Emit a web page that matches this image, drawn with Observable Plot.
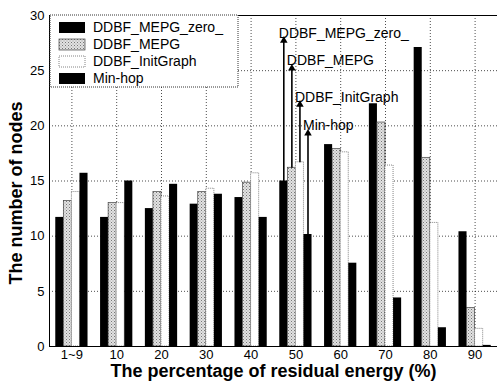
<!DOCTYPE html>
<html><head><meta charset="utf-8">
<script src="https://cdn.jsdelivr.net/npm/d3@7"></script>
<script src="https://cdn.jsdelivr.net/npm/@observablehq/plot@0.6"></script>
<style>body{margin:0;background:#fff;overflow:hidden} #chart{position:relative;width:497px;height:384px}</style>
</head><body><div id="chart"></div>
<script>
const categories = ["1~9","10","20","30","40","50","60","70","80","90"];
const seriesNames = ["DDBF_MEPG_zero_","DDBF_MEPG","DDBF_InitGraph","Min-hop"];
const zeroValues   = [11.7, 11.7, 12.5, 12.9, 13.5, 15.0, 18.3, 22.0, 27.1, 10.4];
const mepgValues   = [13.2, 13.0, 14.0, 14.0, 14.85, 16.2, 17.9, 20.3, 17.1, 3.5];
const initValues   = [14.0, 13.0, 13.6, 14.3, 15.7, 16.7, 17.6, 16.4, 11.2, 1.6];
const minhopValues = [15.7, 15.0, 14.7, 13.8, 11.7, 10.15, 7.55, 4.4, 1.7, 0.1];
const yTicks = [0, 5, 10, 15, 20, 25, 30];
const annotatedCategory = "50";
const arrowTips = [27.9, 25.4, 22.1, 19.5];

const series = [zeroValues, mepgValues, initValues, minhopValues];
const barW = 0.18;
const rows = [];
series.forEach((vals, s) => vals.forEach((v, i) => {
  const x1 = i - 2 * barW + s * barW;
  rows.push({cat: categories[i], i, s, name: seriesNames[s], value: v, x1, x2: x1 + barW, xc: x1 + barW / 2});
}));
const fr = s => rows.filter(d => d.s === s);
const ann = rows.filter(d => d.cat === annotatedCategory).map(d => ({...d, tip: arrowTips[d.s]}));

const barStyles = [
  {fill: "#000"},
  {fill: "url(#mepgPattern)", stroke: "#444", strokeWidth: 0.7},
  {fill: "#fff", stroke: "#666", strokeWidth: 0.8, strokeDasharray: "1,1"},
  {fill: "#000"}
];

const plot = Plot.plot({
  width: 497, height: 384,
  marginLeft: 49, marginRight: 0, marginTop: 15, marginBottom: 38,
  style: {fontFamily: "'Liberation Sans', Arial, sans-serif", fontSize: "13px", background: "#fff", color: "#000"},
  x: {type: "linear", domain: [-0.5, categories.length - 0.5]},
  y: {domain: [0, 30]},
  marks: [
    Plot.ruleY(yTicks.slice(1, -1), {stroke: "#000", strokeDasharray: "1,2", strokeOpacity: 0.7}),
    Plot.ruleX(categories.map((c, i) => i), {stroke: "#000", strokeDasharray: "1,2", strokeOpacity: 0.7}),
    ...barStyles.map((st, s) => Plot.rectY(fr(s), {x1: "x1", x2: "x2", y: "value", ...st})),
    Plot.frame({stroke: "#000"}),
    Plot.axisX(categories.map((c, i) => i), {tickFormat: i => categories[i], tickSize: 0, tickPadding: 3, label: null, fontSize: 13}),
    Plot.axisY(yTicks, {tickSize: 0, tickPadding: 5, label: null, fontSize: 13}),
    Plot.link(ann, {x1: "xc", x2: "xc", y1: "value", y2: "tip", stroke: "#000", strokeWidth: 1.6}),
    Plot.dot(ann, {x: "xc", y: "tip", symbol: "triangle", r: 2.8, fill: "#000", stroke: "none", dy: 2}),
    Plot.text(ann, {x: "xc", y: "tip", text: "name", textAnchor: "start", lineAnchor: "bottom", dx: -5, dy: -1, fontSize: 14, fill: "#000"}),
    Plot.text(["The percentage of residual energy (%)"], {text: d => d, frameAnchor: "bottom", textAnchor: "middle", lineAnchor: "middle", dy: 25, fontSize: 18, fontWeight: "bold", fill: "#000"}),
    Plot.text(["The number of nodes"], {text: d => d, frameAnchor: "left", textAnchor: "middle", rotate: -90, lineAnchor: "middle", dx: -33, dy: 12, fontSize: 18, fontWeight: "bold", fill: "#000"})
  ]
});

const svg = d3.select(plot);
const defs = svg.insert("defs", ":first-child");
const pat = defs.append("pattern").attr("id", "mepgPattern").attr("patternUnits", "userSpaceOnUse").attr("width", 3).attr("height", 3);
pat.append("rect").attr("width", 3).attr("height", 3).attr("fill", "#e2e2e2");
pat.append("rect").attr("x", 0).attr("y", 0).attr("width", 1).attr("height", 1).attr("fill", "#777");
pat.append("rect").attr("x", 1.5).attr("y", 1.5).attr("width", 1).attr("height", 1).attr("fill", "#999");

// legend
const lg = svg.append("g").attr("transform", "translate(50,15)");
lg.append("rect").attr("width", 188).attr("height", 72).attr("fill", "#fff").attr("stroke", "#333").attr("stroke-dasharray", "1,1");
seriesNames.forEach((name, s) => {
  const st = barStyles[s];
  const cy = 12.5 + s * 17;
  lg.append("rect").attr("x", 9).attr("y", cy - 5.5).attr("width", 26).attr("height", 11)
    .attr("fill", st.fill).attr("stroke", st.stroke || "none").attr("stroke-width", st.strokeWidth || 0)
    .attr("stroke-dasharray", st.strokeDasharray || null);
  lg.append("text").attr("x", 43).attr("y", cy).attr("dy", "0.35em").attr("font-size", 14)
    .attr("text-anchor", "start")
    .attr("font-family", "'Liberation Sans', Arial, sans-serif").attr("fill", "#000").text(name);
});

document.getElementById("chart").appendChild(plot);
</script>
</body></html>
